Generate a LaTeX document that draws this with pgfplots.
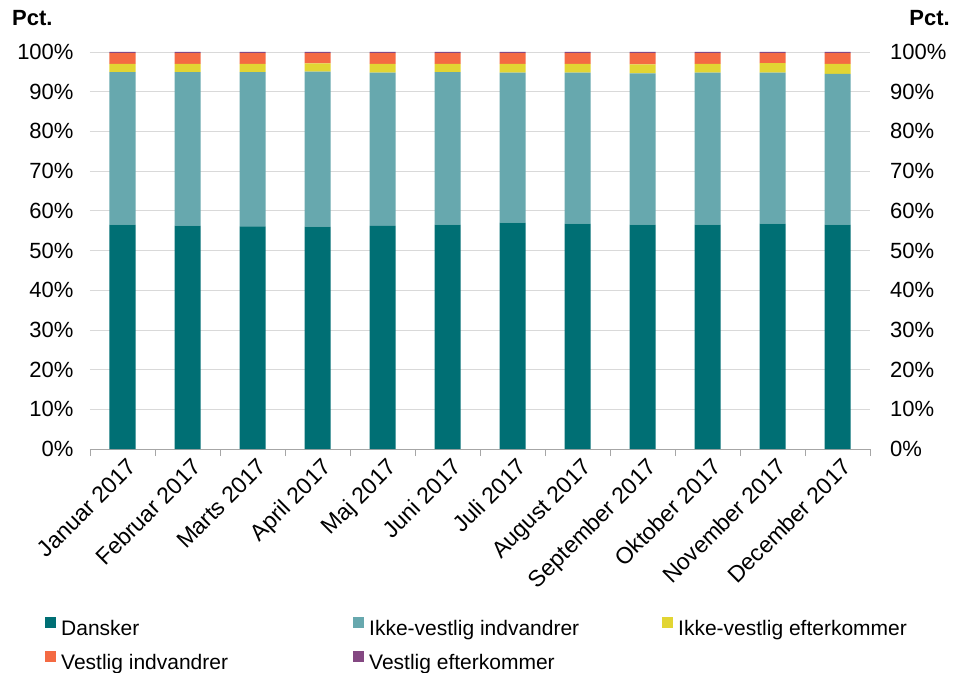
\documentclass[border=0pt]{standalone}
\usepackage{pgfplots}
\usepackage{pgfplotstable}
\pgfplotsset{compat=1.18}
\usepackage{fontspec}
\setmainfont{Liberation Sans}

\definecolor{dansk}{HTML}{006F74}
\definecolor{ivi}{HTML}{67A8AE}
\definecolor{ive}{HTML}{E2D533}
\definecolor{vi}{HTML}{F46A43}
\definecolor{ve}{HTML}{844882}
\definecolor{gridc}{HTML}{D9D9D9}
\definecolor{axc}{HTML}{A6A6A6}

\pgfplotstableread{
x D IVI IVE VI VE
0 56.5 38.4 2.1 2.7 0.3
1 56.25 38.65 2.1 2.7 0.3
2 56.1 38.8 2.1 2.7 0.3
3 56.0 39.05 2.1 2.55 0.3
4 56.2 38.6 2.2 2.7 0.3
5 56.5 38.4 2.1 2.7 0.3
6 57.0 37.8 2.2 2.7 0.3
7 56.75 38.05 2.2 2.7 0.3
8 56.5 38.1 2.3 2.8 0.3
9 56.5 38.3 2.2 2.7 0.3
10 56.75 38.05 2.4 2.5 0.3
11 56.5 38.0 2.5 2.7 0.3
}\data

\begin{document}
\begin{tikzpicture}
\useasboundingbox (-90pt,-223pt) rectangle (865pt,449pt);
\begin{axis}[
  at={(0,0)}, anchor=south west,
  scale only axis, width=780pt, height=397pt,
  ybar stacked, bar width=26pt,
  xmin=-0.5, xmax=11.5, ymin=0, ymax=100,
  axis x line*=bottom, axis y line*=left,
  x axis line style={draw=axc, line width=0.8pt},
  y axis line style={draw=none},
  xtick={0,...,11},
  xticklabels={Januar 2017,Februar 2017,Marts 2017,April 2017,Maj 2017,Juni 2017,Juli 2017,August 2017,September 2017,Oktober 2017,November 2017,December 2017},
  major x tick style={draw=none},
  minor xtick={-0.5,0.5,...,11.5},
  minor x tick style={draw=axc, line width=0.8pt},
  minor tick length=7pt, tick align=outside,
  xticklabel style={font=\fontsize{23}{25}\selectfont, rotate=45, anchor=north east, inner sep=2pt, yshift=-3pt, xshift=2pt},
  ytick={0,10,...,100},
  yticklabel={\pgfmathprintnumber{\tick}\%},
  /pgf/number format/assume math mode=true,
  yticklabel style={font=\fontsize{22}{24}\selectfont, inner sep=0pt, xshift=-12pt},
  major y tick style={draw=none},
  ymajorgrids, grid style={draw=gridc, line width=0.8pt},
  legend columns=3,
  legend style={draw=none, inner sep=0pt, at={(axis description cs:-0.0577,-0.4232)}, anchor=north west,
    font=\fontsize{21}{23}\selectfont,
    nodes={inner sep=0pt, text height=16pt, text depth=5pt},
    row sep=10pt, column sep=0pt},
  /tikz/every odd column/.style={column sep=5pt},
  legend image code/.code={\fill[#1,draw=none] (0pt,2pt) rectangle (11pt,13pt);},
]
\addplot[fill=dansk, draw=none] table[x=x,y=D] {\data};
\addplot[fill=ivi, draw=none] table[x=x,y=IVI] {\data};
\addplot[fill=ive, draw=none] table[x=x,y=IVE] {\data};
\addplot[fill=vi, draw=none] table[x=x,y=VI] {\data};
\addplot[fill=ve, draw=none] table[x=x,y=VE] {\data};
\legend{\makebox[292pt][l]{Dansker},\makebox[293pt][l]{Ikke-vestlig indvandrer},Ikke-vestlig efterkommer,\makebox[292pt][l]{Vestlig indvandrer},\makebox[293pt][l]{Vestlig efterkommer}}
\end{axis}
\begin{axis}[
  at={(0,0)}, anchor=south west,
  scale only axis, width=780pt, height=397pt,
  xmin=-0.5, xmax=11.5, ymin=0, ymax=100,
  axis x line=none, axis y line*=right,
  y axis line style={draw=none},
  ytick={0,10,...,100},
  yticklabel={\pgfmathprintnumber{\tick}\%},
  /pgf/number format/assume math mode=true,
  yticklabel style={font=\fontsize{22}{24}\selectfont, inner sep=0pt, anchor=west, xshift=20pt},
  major y tick style={draw=none},
]
\addplot[draw=none] coordinates {(0,0)};
\end{axis}
\node[anchor=base west, inner sep=0pt, font=\fontsize{22}{24}\selectfont\bfseries] at (-78pt,423pt) {Pct.};
\node[anchor=base east, inner sep=0pt, font=\fontsize{22}{24}\selectfont\bfseries] at (860pt,423pt) {Pct.};
\end{tikzpicture}
\end{document}
